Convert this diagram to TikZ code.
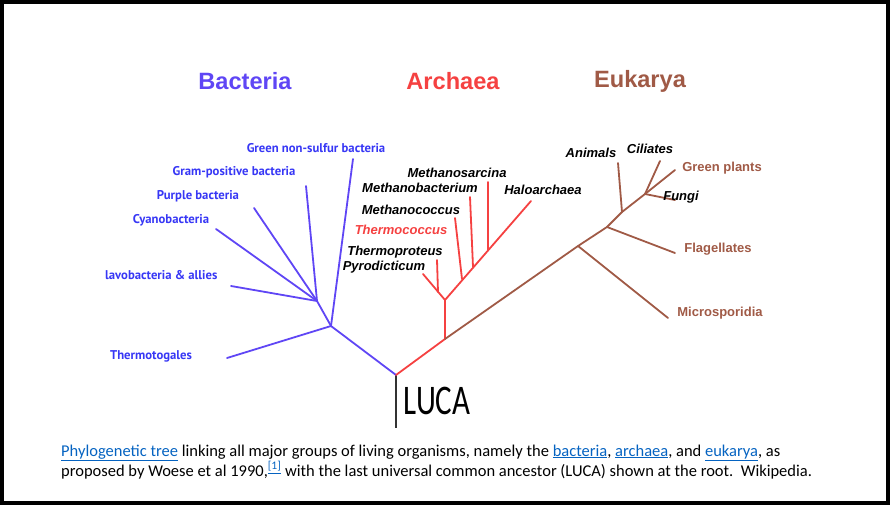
\documentclass[tikz,border=0pt]{standalone}
\usepackage{fontspec}
\setmainfont{Carlito}
\newfontfamily\headfont{Liberation Sans}
\newfontfamily\bactfont{PT Sans}
\usetikzlibrary{positioning}
\definecolor{bactblue}{RGB}{95,70,245}
\definecolor{bacttext}{RGB}{55,55,245}
\definecolor{archred}{RGB}{245,65,65}
\definecolor{eukbrown}{RGB}{160,90,70}
\definecolor{linkblue}{RGB}{5,99,193}
\newcommand{\wlink}[1]{\textcolor{linkblue}{\underline{#1}}}

\begin{document}
\begin{tikzpicture}[x=1pt,y=-1pt,
  bline/.style={bactblue,line width=1.8pt,line cap=round},
  aline/.style={archred,line width=1.8pt,line cap=round},
  eline/.style={eukbrown,line width=1.8pt,line cap=round},
  headlabel/.style={inner sep=0pt,font=\headfont\bfseries\fontsize{23.6}{26}\selectfont},
  bactlabel/.style={inner sep=0pt,text=bacttext,font=\bactfont\bfseries\fontsize{12.7}{14}\selectfont},
  archlabel/.style={inner sep=0pt,font=\headfont\bfseries\itshape\fontsize{13}{14}\selectfont},
  euklabel/.style={inner sep=0pt,text=eukbrown,font=\headfont\bfseries\fontsize{13}{14}\selectfont},
  captionline/.style={inner sep=0pt,anchor=base west,font=\fontsize{16.5}{18}\selectfont}]
\useasboundingbox (0,0) rectangle (890,505);
\draw[line width=4pt] (2,2) rectangle (888,503);

% group titles
\node[headlabel,text=bactblue] (bacttitle) at (245,81) {Bacteria};
\node[headlabel,text=archred] (archtitle) at (453,81) {Archaea};
\node[headlabel,text=eukbrown] (euktitle) at (640,81) {Eukarya};

% root
\coordinate (luca) at (396,375);
\coordinate (lucabase) at (396,428);
\draw[black!80,line width=1.8pt] (luca) -- (lucabase);
\node[inner sep=0pt] (lucalabel) at (437,401)
  {\scalebox{1}[1.36]{\fontsize{31}{32}\selectfont LUCA}};

% bacteria
\coordinate (bnode) at (331,326);
\coordinate (bnodeup) at (317,301);
\coordinate (tmtip) at (227,358);
\coordinate (gnstip) at (353,159);
\coordinate (gptip) at (306,186);
\coordinate (purtip) at (254,208);
\coordinate (cyantip) at (216,229);
\coordinate (flavtip) at (231,286);
\draw[bline] (luca) -- (bnode) -- (bnodeup);
\draw[bline] (bnode) -- (tmtip);
\draw[bline] (bnode) -- (gnstip);
\draw[bline] (bnodeup) -- (gptip);
\draw[bline] (bnodeup) -- (purtip);
\draw[bline] (bnodeup) -- (cyantip);
\draw[bline] (bnodeup) -- (flavtip);
\node[bactlabel] (gnslabel) at (316,148) {Green non-sulfur bacteria};
\node[bactlabel] (gplabel) at (234,172) {Gram-positive bacteria};
\node[bactlabel] (purlabel) at (198,196) {Purple bacteria};
\node[bactlabel] (cyanlabel) at (171,220) {Cyanobacteria};
\node[bactlabel,anchor=west] (flavlabel) at (105,275) {lavobacteria \& allies};
\node[bactlabel] (tmlabel) at (151,356) {Thermotogales};

% archaea
\coordinate (anode) at (445,339);
\coordinate (acrown) at (445,300);
\coordinate (halotip) at (531,201);
\coordinate (pyrotip) at (423,274);
\coordinate (tprojn) at (438,292);
\coordinate (tprotip) at (437,260);
\coordinate (tcocjn) at (462,279);
\coordinate (tcoctip) at (455,218);
\coordinate (mcocjn) at (473,267);
\coordinate (mcoctip) at (470,197);
\coordinate (msarjn) at (488,250);
\coordinate (msartip) at (488,182);
\draw[aline] (luca) -- (anode) -- (acrown) -- (halotip);
\draw[aline] (acrown) -- (pyrotip);
\draw[aline] (tprojn) -- (tprotip);
\draw[aline] (tcocjn) -- (tcoctip);
\draw[aline] (mcocjn) -- (mcoctip);
\draw[aline] (msarjn) -- (msartip);
\node[archlabel] (msarlabel) at (457,173) {Methanosarcina};
\node[archlabel] (mbaclabel) at (420,188) {Methanobacterium};
\node[archlabel] (mcoclabel) at (411,210) {Methanococcus};
\node[archlabel,text=archred] (tcoclabel) at (401,230) {Thermococcus};
\node[archlabel] (tprolabel) at (395,252) {Thermoproteus};
\node[archlabel] (pyrolabel) at (384,267) {Pyrodicticum};
\node[archlabel] (halolabel) at (543,190) {Haloarchaea};

% eukarya
\coordinate (enodea) at (578,246);
\coordinate (enodeb) at (607,227);
\coordinate (enodec) at (622,212);
\coordinate (enoded) at (645,194);
\coordinate (microtip) at (668,318);
\coordinate (flagtip) at (675,253);
\coordinate (animtip) at (618,163);
\coordinate (ciltip) at (660,161);
\coordinate (planttip) at (675,170);
\coordinate (fungtip) at (675,200);
\draw[eline] (anode) -- (enodea) -- (enodeb) -- (enodec) -- (enoded);
\draw[eline] (enodea) -- (microtip);
\draw[eline] (enodeb) -- (flagtip);
\draw[eline] (enodec) -- (animtip);
\draw[eline] (enoded) -- (ciltip);
\draw[eline] (enoded) -- (planttip);
\draw[eline] (enoded) -- (fungtip);
\node[archlabel] (animlabel) at (591,153) {Animals};
\node[archlabel] (cillabel) at (650,149) {Ciliates};
\node[euklabel] (plantlabel) at (722,168) {Green plants};
\node[archlabel] (funglabel) at (681,197) {Fungi};
\node[euklabel] (flaglabel) at (718,249) {Flagellates};
\node[euklabel] (microlabel) at (720,313) {Microsporidia};

% caption
\node[captionline] (capone) at (61,456) {\wlink{Phylogenetic tree} linking all major groups of living organisms, namely the \wlink{bacteria}, \wlink{archaea}, and \wlink{eukarya}, as};
\node[captionline] (captwo) at (61,476) {proposed by Woese et al 1990,\textsuperscript{\wlink{[1]}} with the last universal common ancestor (LUCA) shown at the root.\ \ Wikipedia.};
\end{tikzpicture}
\end{document}
